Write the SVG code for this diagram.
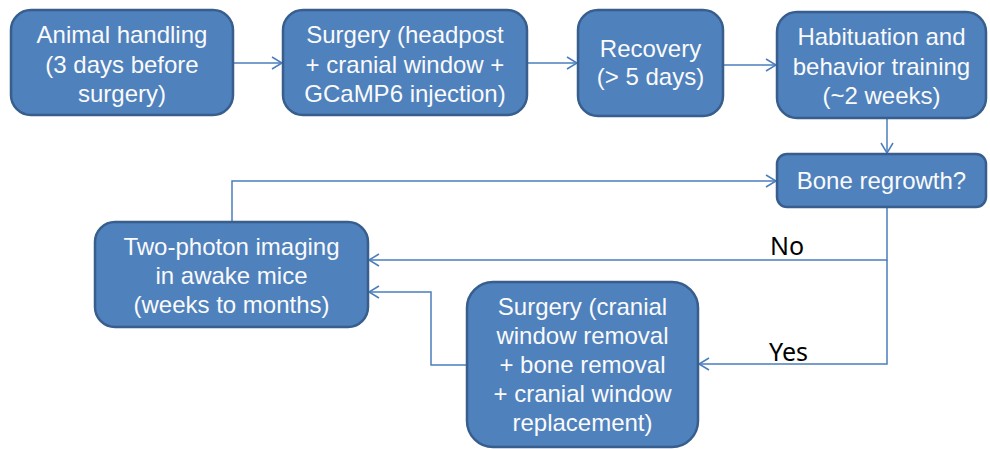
<svg xmlns="http://www.w3.org/2000/svg" width="990" height="449" viewBox="0 0 990 449">
<defs>
<style>
.box{fill:#4f81bd;stroke:#375e8d;stroke-width:2.5}
.t{font-family:"Liberation Sans",Arial,sans-serif;font-size:24px;fill:#fafafa;text-anchor:middle}
.c{fill:none;stroke:#4a7ebb;stroke-width:1.5}
.lbl{font-family:"Noto Sans","Open Sans",sans-serif;font-size:25px;fill:#000000}
</style>
<marker id="arr" markerWidth="14" markerHeight="14" refX="11" refY="7" orient="auto" markerUnits="userSpaceOnUse">
<path d="M1,1 L11,7 L1,13" fill="none" stroke="#4a7ebb" stroke-width="1.5"/>
</marker>
</defs>
<rect width="990" height="449" fill="#ffffff"/>
<g id="connectors">
<path class="c" d="M233,63 H282" marker-end="url(#arr)"/>
<path class="c" d="M527,63 H577" marker-end="url(#arr)"/>
<path class="c" d="M723,65 H776" marker-end="url(#arr)"/>
<path class="c" d="M887,118 V153" marker-end="url(#arr)"/>
<path class="c" d="M232,222 V181 H776" marker-end="url(#arr)"/>
<path class="c" d="M887,207 V260 H369" marker-end="url(#arr)"/>
<path class="c" d="M887,260 V364 H699" marker-end="url(#arr)"/>
<path class="c" d="M467,365 H431 V292 H369" marker-end="url(#arr)"/>
<text class="lbl" x="770" y="255">No</text>
<text class="lbl" x="769" y="361">Yes</text>
</g>
<g id="n1">
<rect class="box" x="11" y="10" width="222" height="105" rx="20"/>
<text class="t" x="122" y="43">Animal handling</text>
<text class="t" x="122" y="72.5">(3 days before</text>
<text class="t" x="122" y="102">surgery)</text>
</g>
<g id="n2">
<rect class="box" x="283" y="10" width="244" height="105" rx="20"/>
<text class="t" x="405" y="43">Surgery (headpost</text>
<text class="t" x="405" y="72.5">+ cranial window +</text>
<text class="t" x="405" y="102">GCaMP6 injection)</text>
</g>
<g id="n3">
<rect class="box" x="578" y="10" width="145" height="106" rx="20"/>
<text class="t" x="650.5" y="57">Recovery</text>
<text class="t" x="650.5" y="85">(&gt; 5 days)</text>
</g>
<g id="n4">
<rect class="box" x="777" y="12" width="209" height="106" rx="20"/>
<text class="t" x="881.5" y="45">Habituation and</text>
<text class="t" x="881.5" y="74.5">behavior training</text>
<text class="t" x="881.5" y="104">(~2 weeks)</text>
</g>
<g id="n5">
<rect class="box" x="777" y="154" width="209" height="53" rx="10"/>
<text class="t" x="881.5" y="189">Bone regrowth?</text>
</g>
<g id="n6">
<rect class="box" x="95" y="222" width="273" height="105" rx="20"/>
<text class="t" x="231.5" y="255">Two-photon imaging</text>
<text class="t" x="231.5" y="284">in awake mice</text>
<text class="t" x="231.5" y="313">(weeks to months)</text>
</g>
<g id="n7">
<rect class="box" x="467" y="282" width="231" height="165" rx="26"/>
<text class="t" x="582.5" y="315">Surgery (cranial</text>
<text class="t" x="582.5" y="344">window removal</text>
<text class="t" x="582.5" y="373">+ bone removal</text>
<text class="t" x="582.5" y="402">+ cranial window</text>
<text class="t" x="582.5" y="431">replacement)</text>
</g>
</svg>
